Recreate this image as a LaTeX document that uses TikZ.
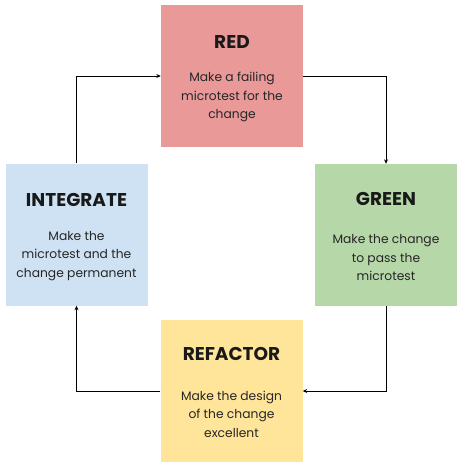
\documentclass[tikz,border=0pt]{standalone}
\usepackage{fontspec}
\setmainfont{Poppins}
\usetikzlibrary{arrows.meta}
\definecolor{cred}{HTML}{EA9999}
\definecolor{cgreen}{HTML}{B6D7A8}
\definecolor{cblue}{HTML}{CFE2F3}
\definecolor{cyellow}{HTML}{FFE599}
\begin{document}
\begin{tikzpicture}[x=1pt,y=-1pt,
  box/.style={minimum width=142pt,minimum height=142pt,inner sep=0pt,draw=none},
  ttl/.style={font=\fontsize{18.5}{20}\selectfont\bfseries,text=black!90},
  body/.style={font=\fontsize{12.3}{18.5}\selectfont,align=center,text=black!85},
  conn/.style={line width=0.7pt,-{Stealth[length=4.5pt,width=4pt]}}]
\useasboundingbox (0,0) rectangle (465,469);
\node[box,fill=cred] (red) at (232,76) {};
\node[box,fill=cgreen] (green) at (386,235) {};
\node[box,fill=cblue] (integrate) at (76.5,234.5) {};
\node[box,fill=cyellow] (refactor) at (231.5,391) {};
\node[ttl] (t1) at (232,42) {RED};
\node[body] (b1) at (232,97) {Make a failing\\microtest for the\\change};
\node[ttl] (t2) at (386,199) {GREEN};
\node[body] (b2) at (386,258) {Make the change\\to pass the\\microtest};
\node[ttl] (t3) at (76.5,200) {INTEGRATE};
\node[body] (b3) at (76.5,256) {Make the\\microtest and the\\change permanent};
\node[ttl] (t4) at (231.5,354) {REFACTOR};
\node[body] (b4) at (231.5,414) {Make the design\\of the change\\excellent};
\draw[conn] (red.east) -| (green.north);
\draw[conn] (green.south) |- (refactor.east);
\draw[conn] (refactor.west) -| (integrate.south);
\draw[conn] (integrate.north) |- (red.west);
\end{tikzpicture}
\end{document}
